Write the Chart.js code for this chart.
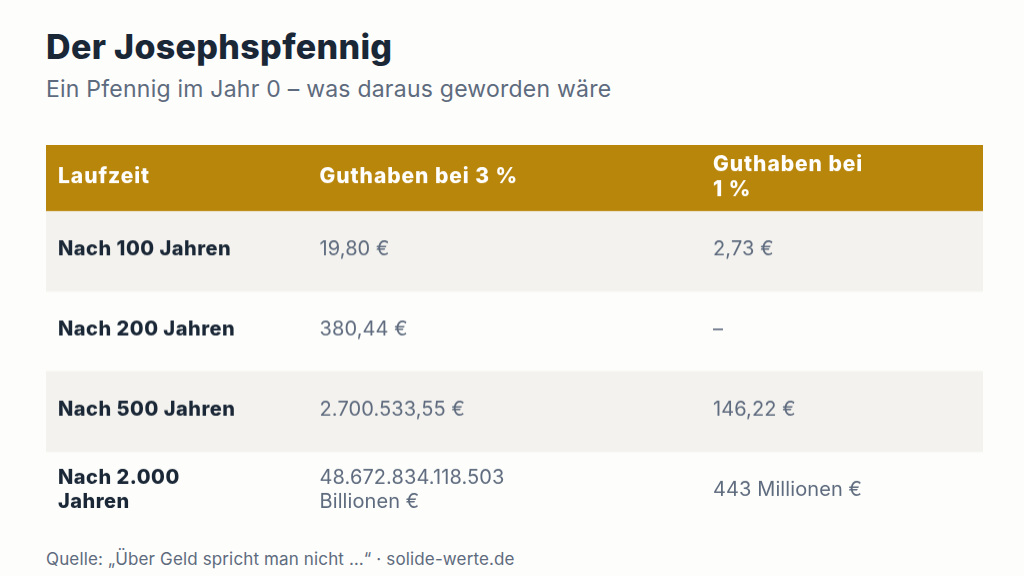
<!DOCTYPE html>
<html lang="de">
<head>
<meta charset="utf-8">
<title>Der Josephspfennig</title>
<script src="https://cdn.jsdelivr.net/npm/chart.js@4"></script>
<style>
  html, body { margin: 0; padding: 0; background: #FDFDFB; }
  body { width: 1024px; height: 576px; position: relative; overflow: hidden; font-family: "Inter", sans-serif; }
  h1, p { position: absolute; left: 46px; margin: 0; white-space: nowrap; }
  h1 { top: 27px; font-size: 34px; line-height: 40px; font-weight: 800; letter-spacing: 0.33px; color: #1A2736; }
  #sub { top: 75px; font-size: 23px; line-height: 28px; letter-spacing: 0.23px; color: #5E6B7E; }
  #src { top: 548px; font-size: 17px; line-height: 22px; letter-spacing: 0.14px; color: #5E6B7E; }
  #wrap { position: absolute; left: 46px; top: 144.8px; width: 937px; height: 385.9px; }
</style>
</head>
<body>
<h1>Der Josephspfennig</h1>
<p id="sub">Ein Pfennig im Jahr 0 – was daraus geworden wäre</p>
<div id="wrap"><canvas id="chart-table"></canvas></div>
<p id="src">Quelle: „Über Geld spricht man nicht …“ · solide-werte.de</p>
<script>
const headers = [["Laufzeit"], ["Guthaben bei 3 %"], ["Guthaben bei", "1 %"]];
const periods = [["Nach 100 Jahren"], ["Nach 200 Jahren"], ["Nach 500 Jahren"], ["Nach 2.000", "Jahren"]];
const at3 = [["19,80 €"], ["380,44 €"], ["2.700.533,55 €"], ["48.672.834.118.503", "Billionen €"]];
const at1 = [["2,73 €"], ["–"], ["146,22 €"], ["443 Millionen €"]];
const rowKeys = ["r100", "r200", "r500", "r2000"];
const stripes = [[0, 937], null, [0, 937], null];

const COLORS = { band: "#F3F2EE", head: "#B8860B", white: "#FFFFFF", dark: "#1A2736", grey: "#5E6B7E" };
const FONT = '"Inter", sans-serif';
const HEAD_H = 65.9;
const PAD = 12;
const colX = [0, 261.5, 655];

function drawLines(ctx, lines, x, y, lh) {
  const start = y - (lines.length - 1) * lh / 2;
  lines.forEach((t, i) => ctx.fillText(t, x, start + i * lh));
}

const tableText = {
  id: "tableText",
  beforeDatasetsDraw(chart) {
    const { ctx, scales } = chart;
    const top = chart.chartArea.top;
    ctx.save();
    ctx.fillStyle = COLORS.head;
    ctx.fillRect(scales.x.left, top - HEAD_H, scales.x.width, HEAD_H);
    ctx.restore();
  },
  afterDatasetsDraw(chart) {
    const { ctx, scales } = chart;
    const top = chart.chartArea.top;
    ctx.save();
    ctx.textBaseline = "middle";
    ctx.textAlign = "left";
    ctx.fillStyle = COLORS.white;
    ctx.font = "800 21px " + FONT;
    ctx.letterSpacing = "0.95px";
    headers.forEach((h, i) => drawLines(ctx, h, scales.x.getPixelForValue(colX[i]) + PAD, top - HEAD_H / 2 - 1, 25));
    rowKeys.forEach((key, r) => {
      const y = scales.y.getPixelForValue(key) - 1.5;
      ctx.fillStyle = COLORS.dark;
      ctx.font = "800 20px " + FONT;
      ctx.letterSpacing = "0.5px";
      drawLines(ctx, periods[r], scales.x.getPixelForValue(colX[0]) + PAD, y, 24);
      ctx.fillStyle = COLORS.grey;
      ctx.font = "400 20px " + FONT;
      ctx.letterSpacing = "0.1px";
      drawLines(ctx, at3[r], scales.x.getPixelForValue(colX[1]) + PAD, y, 24);
      drawLines(ctx, at1[r], scales.x.getPixelForValue(colX[2]) + PAD, y, 24);
    });
    ctx.restore();
  },
};

new Chart(document.getElementById("chart-table"), {
  type: "bar",
  data: {
    labels: rowKeys,
    datasets: [{ data: stripes, backgroundColor: COLORS.band, barPercentage: 1, categoryPercentage: 1, borderWidth: 0 }],
  },
  options: {
    indexAxis: "y",
    responsive: true,
    maintainAspectRatio: false,
    animation: false,
    layout: { padding: { top: HEAD_H } },
    plugins: { legend: { display: false }, tooltip: { enabled: false } },
    scales: {
      x: { type: "linear", min: 0, max: 937, display: false },
      y: { type: "category", display: false },
    },
  },
  plugins: [tableText],
});
</script>
</body>
</html>
